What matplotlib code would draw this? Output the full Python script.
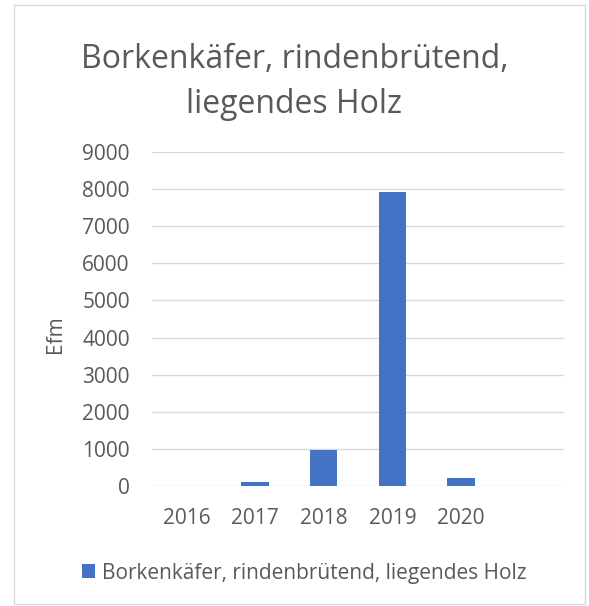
import matplotlib
matplotlib.use("Agg")
import matplotlib.pyplot as plt
from matplotlib.patches import Rectangle

categories = ["2016", "2017", "2018", "2019", "2020", ""]
values = [0, 110, 980, 7925, 220, 0]
yticks = [0, 1000, 2000, 3000, 4000, 5000, 6000, 7000, 8000, 9000]
series_name = "Borkenkäfer, rindenbrütend, liegendes Holz"
title = "Borkenkäfer, rindenbrütend,\nliegendes Holz"
ylabel = "Efm"

plt.rcParams['font.family'] = ['Open Sans', 'DejaVu Sans']
txt = "#595959"
fig = plt.figure(figsize=(5.89, 6.06), dpi=100)
fig.patches.append(Rectangle((14/589, 1-604/606), 571/589, 599/606, transform=fig.transFigure,
                             fill=False, edgecolor="#D9D9D9", linewidth=1))
ax = fig.add_axes([152/589, 1-486/606, (564-152)/589, (486-152)/606])
x = list(range(len(categories)))
ax.bar(x, values, width=0.4, color="#4472C4", label=series_name, zorder=3)
ax.set_xlim(-0.5, len(categories)-0.5)
ax.set_ylim(0, 9000)
ax.set_yticks(yticks)
ax.set_yticklabels([str(v) for v in yticks])
ax.set_xticks(x)
ax.set_xticklabels(categories)
ax.grid(axis='y', color="#D9D9D9", linewidth=1, zorder=0)
for s in ax.spines.values():
    s.set_visible(False)
ax.tick_params(length=0, labelsize=15, colors=txt)
ax.tick_params(axis='y', pad=16)
ax.tick_params(axis='x', pad=16)
ax.set_ylabel(ylabel, fontsize=15, color=txt)
ax.yaxis.set_label_coords((66-152)/412, (486-334)/334)
fig.text(0.5, 1-82/606, title, ha='center', va='center', fontsize=23, color=txt, linespacing=1.5)
leg = fig.legend(loc='center', bbox_to_anchor=(304/589, 1-573/606), frameon=False,
                 fontsize=15, handlelength=0.63, handleheight=0.63, handletextpad=0.33, labelcolor=txt,
                 borderpad=0, borderaxespad=0)
fig.savefig("out.png", dpi=100)
